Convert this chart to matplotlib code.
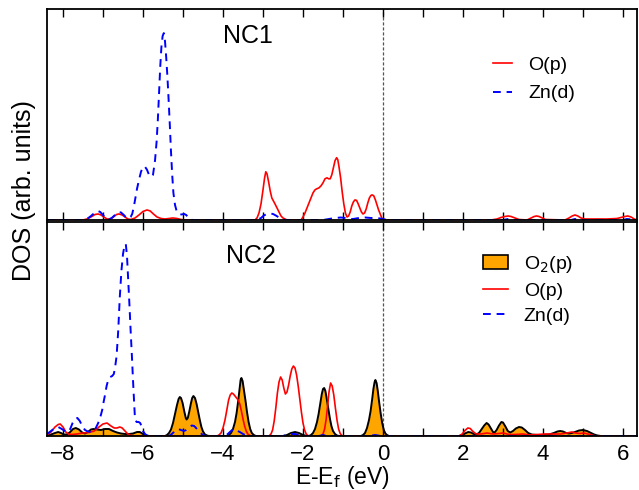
import matplotlib
matplotlib.use("Agg")
import matplotlib.pyplot as plt
from matplotlib.patches import Patch
from matplotlib.lines import Line2D
from matplotlib.ticker import MultipleLocator

plt.rcParams['font.family'] = ['Liberation Sans', 'DejaVu Sans']

# ---- NC1 (top panel) (arb. units) ----
nc1_op_e = [-8.4, -7.5, -7.4, -7.3, -7.2, -7.12, -7.05, -6.98, -6.9, -6.82, -6.74, -6.66, -6.6,
            -6.52, -6.45, -6.38, -6.3, -6.2, -6.1, -6.0, -5.9, -5.82, -5.74, -5.65, -5.55,
            -5.45, -5.35, -5.25, -5.15, -5.05, -4.95,
            -3.2, -3.15, -3.1, -3.05, -3.0, -2.96, -2.93, -2.9, -2.86, -2.82, -2.78, -2.74,
            -2.7, -2.65, -2.6, -2.55, -2.5, -2.45, -2.4,
            -2.05, -2.0, -1.95, -1.9, -1.85, -1.8, -1.75, -1.7, -1.66, -1.6, -1.55, -1.5,
            -1.45, -1.4, -1.36, -1.32, -1.28, -1.24, -1.2, -1.16, -1.13, -1.1, -1.06, -1.02,
            -0.98, -0.94, -0.9, -0.86, -0.82, -0.78, -0.74, -0.7, -0.66, -0.62, -0.58, -0.54,
            -0.5, -0.46, -0.42, -0.38, -0.34, -0.3, -0.27, -0.23, -0.19, -0.15, -0.11, -0.07,
            -0.03, 0.0,
            2.7, 2.85, 2.95, 3.05, 3.13, 3.2, 3.3, 3.4, 3.6, 3.7, 3.78, 3.84, 3.9, 3.98, 4.06,
            4.55, 4.65, 4.73, 4.8, 4.87, 4.95, 5.05, 5.3, 5.6, 5.85, 5.95, 6.05, 6.12, 6.2,
            6.28, 6.35]
nc1_op_v = [0, 0, 1, 3, 5.5, 6, 5, 3, 1, 1, 3, 5.5, 6,
            5, 3, 1, 0.5, 2, 5, 8.5, 10, 9, 6, 3, 1.5,
            1, 1.5, 2, 1.5, 0.5, 0,
            0, 2, 7, 16, 30, 42, 48, 46, 38, 29, 22, 19,
            16, 12, 8, 4, 2, 1, 0,
            0, 3, 7, 12, 17, 22, 27, 30, 31, 32, 34, 37,
            41, 42, 41, 41, 45, 52, 59, 62, 60, 53, 42, 28,
            16, 7, 3, 4, 8, 14, 18, 20, 19.5, 16, 12, 8,
            6, 7, 11, 17, 22, 24.5, 25, 24, 20, 15, 10, 6,
            2, 0,
            0, 1, 2.5, 3.5, 4, 3.5, 2, 0.5, 0, 2, 3.5, 4, 3.5, 2, 0.5,
            0, 2, 4, 5, 4, 2, 1, 1, 1, 1.5, 2.5, 3.5, 4, 3,
            1, 0]

nc1_znd_e = [-8.4, -7.5, -7.4, -7.3, -7.2, -7.13, -7.07, -7.0, -6.93, -6.86, -6.78, -6.7, -6.62,
             -6.55, -6.48, -6.42, -6.36, -6.31, -6.27, -6.23, -6.19, -6.15, -6.1, -6.05, -6.0,
             -5.95, -5.9, -5.85, -5.8, -5.75, -5.7, -5.66, -5.63, -5.6, -5.57, -5.54, -5.51,
             -5.48, -5.45, -5.42, -5.39, -5.36, -5.33, -5.3, -5.27, -5.24, -5.2, -5.16, -5.1,
             -5.04, -4.97, -4.92, -4.87, -4.82, -4.75,
             -3.15, -3.05, -2.98, -2.9, -2.83, -2.75, -2.68, -2.6, -2.5, -2.45,
             -1.5, -1.35, -1.2, -1.05, -0.95, -0.85, -0.75, -0.6, -0.45, -0.3, -0.15, 0.0, 0.1,
             3.0, 3.13, 3.3, 4.7, 4.8, 4.9, 6.0, 6.1, 6.35]
nc1_znd_v = [0, 0, 1, 4, 7.5, 9, 8, 5, 1.5, 0.5, 2, 5, 8,
             7.5, 5, 2.5, 1.5, 3, 6, 13, 22, 31, 40, 48, 53,
             53, 50, 45, 43, 45, 59, 78, 99, 125, 152, 172, 183,
             186, 178, 162, 143, 120, 95, 68, 45, 27, 15, 9, 6,
             5.5, 6, 5, 2.5, 0.5, 0,
             0, 2, 4.5, 6, 6.5, 6, 4.5, 2.5, 0.5, 0,
             0, 1, 2, 2.5, 2, 1, 1, 2, 2.5, 2, 2, 1, 0,
             0, 1, 0, 0, 1, 0, 0, 1, 0]

# ---- NC2 (bottom panel) ----
nc2_o2p_e = [-8.4, -8.3, -8.2, -8.12, -8.05, -7.98, -7.9, -7.82, -7.75, -7.68, -7.6, -7.52,
             -7.45, -7.38, -7.3, -7.24, -7.15, -7.05, -6.95, -6.85, -6.75, -6.65, -6.55,
             -6.45, -6.35, -6.25, -6.15, -6.08, -6.0, -5.92, -5.85,
             -5.45, -5.4, -5.35, -5.3, -5.25, -5.2, -5.15, -5.11, -5.08, -5.05, -5.01, -4.97,
             -4.93, -4.91, -4.88, -4.84, -4.8, -4.77, -4.74, -4.7, -4.66, -4.62, -4.58, -4.54,
             -4.5, -4.45, -4.4, -4.35,
             -3.9, -3.85, -3.8, -3.75, -3.7, -3.66, -3.62, -3.59, -3.56, -3.54, -3.51, -3.48,
             -3.44, -3.4, -3.36, -3.32, -3.28, -3.23, -3.18,
             -2.5, -2.4, -2.3, -2.2, -2.1, -2.0, -1.9,
             -1.85, -1.8, -1.75, -1.7, -1.65, -1.61, -1.57, -1.53, -1.5, -1.47, -1.44, -1.41,
             -1.37, -1.33, -1.29, -1.25, -1.2, -1.15, -1.1,
             -0.55, -0.5, -0.45, -0.4, -0.35, -0.31, -0.27, -0.24, -0.21, -0.19, -0.16, -0.13,
             -0.1, -0.06, -0.02, 0.02, 0.06, 0.1, 0.15,
             1.9, 1.98, 2.05, 2.13, 2.2, 2.27, 2.33, 2.4, 2.46, 2.53, 2.59, 2.64, 2.7, 2.75,
             2.79, 2.84, 2.9, 2.96, 3.0, 3.06, 3.12, 3.18, 3.25, 3.32, 3.4, 3.47, 3.55, 3.63,
             3.72, 3.85, 4.0, 4.15, 4.27, 4.36, 4.43, 4.5, 4.58, 4.65, 4.72, 4.8, 4.9, 5.0,
             5.1, 5.2, 5.28, 5.36, 5.45, 6.35]
nc2_o2p_v = [0.5, 1.5, 3, 4, 3, 1.5, 1.5, 4, 7, 8, 6.5, 3.5,
             2.5, 4, 6.5, 7, 6.5, 6, 7, 7, 5, 3.5, 2.5,
             2, 2, 2.5, 4, 4, 2, 0.5, 0,
             0, 1, 3, 6.5, 13, 22, 31, 37, 39, 38, 33, 25,
             18, 16.5, 18, 25, 33, 38, 40, 38, 32, 24, 16, 9,
             4.5, 1.5, 0.5, 0,
             0, 1, 3, 7, 14, 23, 35, 46, 56, 58, 55, 47,
             36, 24, 14, 7, 3, 1, 0,
             0, 1, 3, 4, 3, 1, 0,
             0, 1, 3, 7, 14, 22, 32, 42, 47, 48, 45, 38,
             28, 18, 10, 5, 2, 0.5, 0,
             0, 1, 3, 8, 16, 25, 37, 47, 54, 56, 53, 45,
             35, 23, 13, 6, 2.5, 1, 0,
             0, 1, 2.5, 4, 3.5, 2, 1.5, 3, 6.5, 10.5, 13, 11.5, 7.5, 4,
             3.5, 6, 10.5, 14, 13.5, 9.5, 5, 3.5, 5, 7.5, 9, 8.5, 6, 3,
             1.5, 1, 1, 1.5, 3, 4.5, 5, 4.5, 3, 2.5, 3, 4, 5.5, 6,
             5, 3, 1.5, 0.5, 0, 0]

nc2_op_e = [-8.4, -8.3, -8.2, -8.12, -8.07, -8.0, -7.93, -7.86, -7.78, -7.65, -7.5, -7.35,
            -7.22, -7.1, -7.0, -6.9, -6.8, -6.72, -6.65, -6.58, -6.52, -6.45, -6.38, -6.3, -6.2,
            -4.15, -4.1, -4.05, -4.0, -3.95, -3.9, -3.86, -3.82, -3.78, -3.74, -3.7, -3.66,
            -3.62, -3.58, -3.54, -3.5, -3.46, -3.42, -3.38, -3.33, -3.28,
            -2.85, -2.8, -2.76, -2.72, -2.68, -2.64, -2.6, -2.56, -2.52, -2.48, -2.44, -2.4,
            -2.36, -2.32, -2.28, -2.24, -2.2, -2.16, -2.12, -2.08, -2.04, -2.0, -1.96, -1.92,
            -1.88, -1.84,
            -1.55, -1.5, -1.46, -1.42, -1.38, -1.35, -1.31, -1.27, -1.23, -1.19, -1.15, -1.11,
            -1.07, -1.03, -0.98,
            1.9, 1.98, 2.05, 2.12, 2.18, 2.25, 2.33, 2.45, 2.6, 2.75, 2.9, 3.0, 3.15, 3.3,
            3.5, 3.65, 3.85, 4.05, 4.25, 4.45, 4.6, 4.72, 4.82, 4.92, 5.02, 5.12, 5.22, 5.3,
            6.35]
nc2_op_v = [1, 4, 9, 11.5, 12, 9, 4, 2, 1.5, 2, 3, 3.5,
            5, 9, 12, 13, 10, 8, 8, 9, 8, 5, 2, 0.5, 0,
            0, 1, 3, 8, 16, 27, 36, 41, 43, 42, 40, 38,
            36, 32, 25, 17, 10, 5, 2, 0.5, 0,
            0, 2, 6, 15, 28, 43, 54, 59, 56, 48, 42, 44,
            51, 60, 67, 70, 68, 61, 50, 37, 24, 13, 6, 2,
            0.5, 0,
            0, 2, 7, 17, 32, 44, 53, 50, 41, 28, 16, 7,
            2.5, 0.5, 0,
            0, 2, 5.5, 8, 7.5, 4.5, 2, 2, 3, 2, 2.5, 3, 1.5, 1.5,
            2, 1, 1.5, 2, 2, 2, 3, 4, 3, 2.5, 3, 2, 1, 0,
            0]

nc2_znd_e = [-8.4, -8.3, -8.2, -8.12, -8.05, -7.95, -7.87, -7.82, -7.76, -7.7, -7.64, -7.58,
             -7.52, -7.45, -7.38, -7.3, -7.24, -7.18, -7.12, -7.06, -7.02, -6.99, -6.95,
             -6.91, -6.87, -6.82, -6.77, -6.73, -6.7, -6.66, -6.62, -6.58, -6.54, -6.5, -6.46,
             -6.43, -6.4, -6.37, -6.34, -6.31, -6.28, -6.25, -6.22, -6.2, -6.16, -6.11, -6.07,
             -6.03, -6.0, -5.95, -5.9, -5.85,
             -5.35, -5.28, -5.2, -5.12, -5.05, -4.98, -4.92, -4.85, -4.78, -4.72, -4.65,
             -4.58, -4.5, -4.42,
             -3.95, -3.88, -3.8, -3.74, -3.66, -3.58, -3.5, -3.42, -3.35,
             -2.5, -2.4, -2.3, -2.2, -2.1, -1.95, -1.6, -1.5, -1.4, -0.35, -0.2, -0.05, 6.35]
nc2_znd_v = [2, 5, 8, 9, 7.5, 5, 4, 7, 13, 17, 18, 15,
             10, 6, 4.5, 4, 5, 8, 13, 20, 26, 33, 41,
             50, 56, 59, 60, 62, 68, 80, 105, 139, 165, 182, 191,
             192, 180, 156, 132, 106, 82, 56, 32, 17, 14, 14, 13,
             9, 5, 2, 0.5, 0,
             0, 2, 5, 7, 6, 5, 6, 8.5, 10.5, 10, 7,
             3.5, 1, 0,
             0, 2, 5, 7, 5.5, 4, 2, 0.5, 0,
             0, 1, 2, 2, 1, 0, 0, 1, 0, 0, 1, 0, 0]

W, H = 639, 490
fig = plt.figure(figsize=(W / 100, H / 100), dpi=100)
ax1 = fig.add_axes([47 / W, 1 - 220 / H, 590 / W, 211 / H])
ax2 = fig.add_axes([47 / W, 1 - 436 / H, 590 / W, 214 / H])

red = '#ff0000'
blue = '#0000ff'

ax1.plot(nc1_op_e, nc1_op_v, color=red, lw=1.2, label='O(p)')
ax1.plot(nc1_znd_e, nc1_znd_v, color=blue, lw=1.4, dashes=(4, 3), label='Zn(d)')

ax2.fill_between(nc2_o2p_e, nc2_o2p_v, 0, color='#ffa500', lw=0)
ax2.plot(nc2_o2p_e, nc2_o2p_v, color='black', lw=1.4)
ax2.plot(nc2_op_e, nc2_op_v, color=red, lw=1.2)
ax2.plot(nc2_znd_e, nc2_znd_v, color=blue, lw=1.4, dashes=(4, 3))

for ax, ytop in ((ax1, 210), (ax2, 214)):
    ax.set_xlim(-8.4, 6.35)
    ax.set_ylim(0, ytop)
    ax.axvline(0, color='#555555', lw=0.9, dashes=(2.5, 1.5), zorder=0.5)
    ax.set_yticks([])
    ax.xaxis.set_major_locator(MultipleLocator(2))
    ax.xaxis.set_minor_locator(MultipleLocator(1))
    ax.tick_params(axis='x', which='both', direction='in', top=True, bottom=True,
                   length=6, width=1, labelsize=16, pad=6)
    for s in ax.spines.values():
        s.set_linewidth(1.3)

ax1.tick_params(axis='x', labelbottom=False)
ax2.set_xlabel('E-E$_\\mathrm{f}$ (eV)', fontsize=16.5, labelpad=-1)

ax1.text(0.341, 0.872, 'NC1', transform=ax1.transAxes, fontsize=18,
         ha='center', va='center')
ax2.text(0.346, 0.839, 'NC2', transform=ax2.transAxes, fontsize=18,
         ha='center', va='center')

fig.text(0.037, 0.612, 'DOS (arb. units)', rotation=90, fontsize=18,
         ha='center', va='center')

ax1.legend(loc='upper left', bbox_to_anchor=(0.756, 0.776), frameon=False,
           fontsize=14, handlelength=1.0, handletextpad=0.8, labelspacing=0.56,
           borderpad=0, borderaxespad=0)

handles = [Patch(facecolor='#ffa500', edgecolor='black', lw=1.2, label='O$_2$(p)'),
           Line2D([], [], color=red, lw=1.2, label='O(p)'),
           Line2D([], [], color=blue, lw=1.4, dashes=(4, 3), label='Zn(d)')]
ax2.legend(handles=handles, loc='upper left', bbox_to_anchor=(0.739, 0.851),
           frameon=False, fontsize=14, handlelength=1.3, handletextpad=0.8,
           labelspacing=0.38, borderpad=0, borderaxespad=0)

fig.savefig('out.png', dpi=100)
